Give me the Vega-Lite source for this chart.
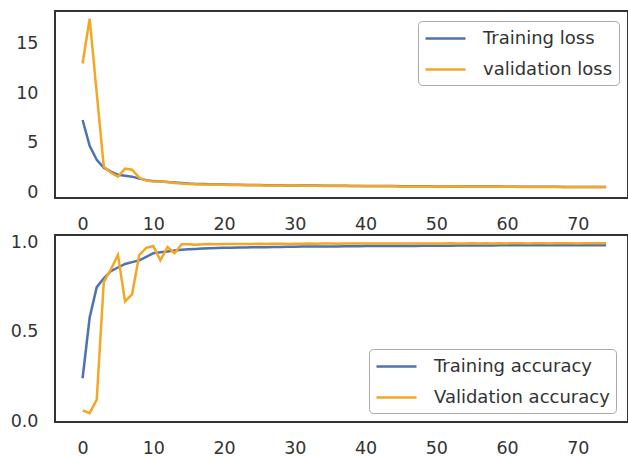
{
  "$schema": "https://vega.github.io/schema/vega-lite/v6.json",
  "background": "white",
  "padding": {"left": 9, "top": 10, "right": 1, "bottom": 0},
  "spacing": 37,
  "bounds": "flush",
  "config": {
    "font": "DejaVu Sans",
    "view": {"stroke": "#333333", "strokeWidth": 2},
    "axis": {"grid": false, "ticks": false, "domain": false, "labelFont": "DejaVu Sans", "labelFontSize": 17.5, "labelColor": "#333333", "title": null},
    "legend": {"labelFont": "DejaVu Sans", "labelFontSize": 18, "labelColor": "#333333", "labelLimit": 400, "symbolType": "M-1,0H3", "symbolSize": 400, "symbolStrokeWidth": 2.5, "symbolFillColor": "transparent", "strokeColor": "#aaaaaa", "fillColor": "white", "cornerRadius": 4, "padding": 6, "labelOffset": 36, "rowPadding": 10}
  },
  "datasets": {
    "hist": [
      {"epoch":0,"Training loss":7.3,"validation loss":13.0,"Training accuracy":0.24,"Validation accuracy":0.06},
      {"epoch":1,"Training loss":4.7,"validation loss":17.5,"Training accuracy":0.58,"Validation accuracy":0.045},
      {"epoch":2,"Training loss":3.3,"validation loss":10.0,"Training accuracy":0.75,"Validation accuracy":0.12},
      {"epoch":3,"Training loss":2.5,"validation loss":2.6,"Training accuracy":0.8,"Validation accuracy":0.78},
      {"epoch":4,"Training loss":2.1,"validation loss":2.0,"Training accuracy":0.84,"Validation accuracy":0.85},
      {"epoch":5,"Training loss":1.8,"validation loss":1.6,"Training accuracy":0.86,"Validation accuracy":0.93},
      {"epoch":6,"Training loss":1.7,"validation loss":2.4,"Training accuracy":0.88,"Validation accuracy":0.67},
      {"epoch":7,"Training loss":1.6,"validation loss":2.3,"Training accuracy":0.89,"Validation accuracy":0.71},
      {"epoch":8,"Training loss":1.4,"validation loss":1.5,"Training accuracy":0.9,"Validation accuracy":0.93},
      {"epoch":9,"Training loss":1.25,"validation loss":1.2,"Training accuracy":0.92,"Validation accuracy":0.97},
      {"epoch":10,"Training loss":1.15,"validation loss":1.1,"Training accuracy":0.94,"Validation accuracy":0.98},
      {"epoch":11,"Training loss":1.1,"validation loss":1.1,"Training accuracy":0.945,"Validation accuracy":0.9},
      {"epoch":12,"Training loss":1.05,"validation loss":1.05,"Training accuracy":0.95,"Validation accuracy":0.975},
      {"epoch":13,"Training loss":1.0,"validation loss":0.95,"Training accuracy":0.955,"Validation accuracy":0.94},
      {"epoch":14,"Training loss":0.95,"validation loss":0.9,"Training accuracy":0.96,"Validation accuracy":0.99},
      {"epoch":15,"Training loss":0.9,"validation loss":0.86,"Training accuracy":0.962,"Validation accuracy":0.99},
      {"epoch":16,"Training loss":0.87,"validation loss":0.84,"Training accuracy":0.964,"Validation accuracy":0.988},
      {"epoch":17,"Training loss":0.85,"validation loss":0.82,"Training accuracy":0.966,"Validation accuracy":0.99},
      {"epoch":18,"Training loss":0.83,"validation loss":0.8,"Training accuracy":0.968,"Validation accuracy":0.991},
      {"epoch":19,"Training loss":0.81,"validation loss":0.79,"Training accuracy":0.969,"Validation accuracy":0.99},
      {"epoch":20,"Training loss":0.8,"validation loss":0.78,"Training accuracy":0.97,"Validation accuracy":0.991},
      {"epoch":21,"Training loss":0.79,"validation loss":0.77,"Training accuracy":0.971,"Validation accuracy":0.992},
      {"epoch":22,"Training loss":0.78,"validation loss":0.76,"Training accuracy":0.972,"Validation accuracy":0.991},
      {"epoch":23,"Training loss":0.77,"validation loss":0.75,"Training accuracy":0.972,"Validation accuracy":0.992},
      {"epoch":24,"Training loss":0.76,"validation loss":0.74,"Training accuracy":0.973,"Validation accuracy":0.992},
      {"epoch":25,"Training loss":0.75,"validation loss":0.73,"Training accuracy":0.974,"Validation accuracy":0.993},
      {"epoch":26,"Training loss":0.74,"validation loss":0.72,"Training accuracy":0.974,"Validation accuracy":0.992},
      {"epoch":27,"Training loss":0.74,"validation loss":0.72,"Training accuracy":0.975,"Validation accuracy":0.993},
      {"epoch":28,"Training loss":0.73,"validation loss":0.71,"Training accuracy":0.975,"Validation accuracy":0.993},
      {"epoch":29,"Training loss":0.72,"validation loss":0.7,"Training accuracy":0.976,"Validation accuracy":0.992},
      {"epoch":30,"Training loss":0.72,"validation loss":0.7,"Training accuracy":0.976,"Validation accuracy":0.993},
      {"epoch":31,"Training loss":0.71,"validation loss":0.69,"Training accuracy":0.977,"Validation accuracy":0.993},
      {"epoch":32,"Training loss":0.7,"validation loss":0.68,"Training accuracy":0.977,"Validation accuracy":0.994},
      {"epoch":33,"Training loss":0.7,"validation loss":0.68,"Training accuracy":0.977,"Validation accuracy":0.993},
      {"epoch":34,"Training loss":0.69,"validation loss":0.67,"Training accuracy":0.978,"Validation accuracy":0.994},
      {"epoch":35,"Training loss":0.69,"validation loss":0.67,"Training accuracy":0.978,"Validation accuracy":0.994},
      {"epoch":36,"Training loss":0.68,"validation loss":0.66,"Training accuracy":0.978,"Validation accuracy":0.993},
      {"epoch":37,"Training loss":0.68,"validation loss":0.66,"Training accuracy":0.979,"Validation accuracy":0.994},
      {"epoch":38,"Training loss":0.67,"validation loss":0.65,"Training accuracy":0.979,"Validation accuracy":0.994},
      {"epoch":39,"Training loss":0.67,"validation loss":0.65,"Training accuracy":0.979,"Validation accuracy":0.995},
      {"epoch":40,"Training loss":0.66,"validation loss":0.64,"Training accuracy":0.98,"Validation accuracy":0.994},
      {"epoch":41,"Training loss":0.66,"validation loss":0.64,"Training accuracy":0.98,"Validation accuracy":0.995},
      {"epoch":42,"Training loss":0.65,"validation loss":0.63,"Training accuracy":0.98,"Validation accuracy":0.994},
      {"epoch":43,"Training loss":0.65,"validation loss":0.63,"Training accuracy":0.98,"Validation accuracy":0.995},
      {"epoch":44,"Training loss":0.65,"validation loss":0.63,"Training accuracy":0.981,"Validation accuracy":0.995},
      {"epoch":45,"Training loss":0.64,"validation loss":0.62,"Training accuracy":0.981,"Validation accuracy":0.994},
      {"epoch":46,"Training loss":0.64,"validation loss":0.62,"Training accuracy":0.981,"Validation accuracy":0.995},
      {"epoch":47,"Training loss":0.63,"validation loss":0.61,"Training accuracy":0.981,"Validation accuracy":0.995},
      {"epoch":48,"Training loss":0.63,"validation loss":0.61,"Training accuracy":0.982,"Validation accuracy":0.995},
      {"epoch":49,"Training loss":0.63,"validation loss":0.61,"Training accuracy":0.982,"Validation accuracy":0.994},
      {"epoch":50,"Training loss":0.62,"validation loss":0.6,"Training accuracy":0.982,"Validation accuracy":0.995},
      {"epoch":51,"Training loss":0.62,"validation loss":0.6,"Training accuracy":0.982,"Validation accuracy":0.995},
      {"epoch":52,"Training loss":0.62,"validation loss":0.6,"Training accuracy":0.982,"Validation accuracy":0.996},
      {"epoch":53,"Training loss":0.61,"validation loss":0.6,"Training accuracy":0.983,"Validation accuracy":0.995},
      {"epoch":54,"Training loss":0.61,"validation loss":0.59,"Training accuracy":0.983,"Validation accuracy":0.995},
      {"epoch":55,"Training loss":0.61,"validation loss":0.59,"Training accuracy":0.983,"Validation accuracy":0.996},
      {"epoch":56,"Training loss":0.6,"validation loss":0.59,"Training accuracy":0.983,"Validation accuracy":0.995},
      {"epoch":57,"Training loss":0.6,"validation loss":0.59,"Training accuracy":0.983,"Validation accuracy":0.996},
      {"epoch":58,"Training loss":0.6,"validation loss":0.58,"Training accuracy":0.983,"Validation accuracy":0.995},
      {"epoch":59,"Training loss":0.6,"validation loss":0.58,"Training accuracy":0.984,"Validation accuracy":0.996},
      {"epoch":60,"Training loss":0.59,"validation loss":0.58,"Training accuracy":0.984,"Validation accuracy":0.995},
      {"epoch":61,"Training loss":0.59,"validation loss":0.58,"Training accuracy":0.984,"Validation accuracy":0.996},
      {"epoch":62,"Training loss":0.59,"validation loss":0.57,"Training accuracy":0.984,"Validation accuracy":0.996},
      {"epoch":63,"Training loss":0.59,"validation loss":0.57,"Training accuracy":0.984,"Validation accuracy":0.995},
      {"epoch":64,"Training loss":0.58,"validation loss":0.57,"Training accuracy":0.984,"Validation accuracy":0.996},
      {"epoch":65,"Training loss":0.58,"validation loss":0.57,"Training accuracy":0.984,"Validation accuracy":0.996},
      {"epoch":66,"Training loss":0.58,"validation loss":0.57,"Training accuracy":0.985,"Validation accuracy":0.995},
      {"epoch":67,"Training loss":0.58,"validation loss":0.56,"Training accuracy":0.985,"Validation accuracy":0.996},
      {"epoch":68,"Training loss":0.57,"validation loss":0.56,"Training accuracy":0.985,"Validation accuracy":0.996},
      {"epoch":69,"Training loss":0.57,"validation loss":0.56,"Training accuracy":0.985,"Validation accuracy":0.996},
      {"epoch":70,"Training loss":0.57,"validation loss":0.56,"Training accuracy":0.985,"Validation accuracy":0.995},
      {"epoch":71,"Training loss":0.57,"validation loss":0.56,"Training accuracy":0.985,"Validation accuracy":0.996},
      {"epoch":72,"Training loss":0.57,"validation loss":0.55,"Training accuracy":0.985,"Validation accuracy":0.996},
      {"epoch":73,"Training loss":0.56,"validation loss":0.55,"Training accuracy":0.985,"Validation accuracy":0.996},
      {"epoch":74,"Training loss":0.56,"validation loss":0.55,"Training accuracy":0.985,"Validation accuracy":0.996}
    ]
  },
  "vconcat": [
    {
      "width": 573,
      "height": 187,
      "data": {"name": "hist"},
      "transform": [{"fold": ["Training loss", "validation loss"], "as": ["series", "value"]}],
      "mark": {"type": "line", "strokeWidth": 2.5},
      "encoding": {
        "x": {"field": "epoch", "type": "quantitative", "scale": {"domain": [-3.9, 77.1], "nice": false, "zero": false}, "axis": {"values": [0, 10, 20, 30, 40, 50, 60, 70], "labelPadding": 17}},
        "y": {"field": "value", "type": "quantitative", "scale": {"domain": [-0.55, 18.28], "nice": false, "zero": false}, "axis": {"values": [0, 5, 10, 15], "labelPadding": 17}},
        "color": {"field": "series", "type": "nominal", "scale": {"domain": ["Training loss", "validation loss"], "range": ["#4c72b0", "#f5a623"]}, "legend": {"title": null, "orient": "none", "legendX": 363, "legendY": 10}}
      }
    },
    {
      "width": 573,
      "height": 187,
      "data": {"name": "hist"},
      "transform": [{"fold": ["Training accuracy", "Validation accuracy"], "as": ["series", "value"]}],
      "mark": {"type": "line", "strokeWidth": 2.5},
      "encoding": {
        "x": {"field": "epoch", "type": "quantitative", "scale": {"domain": [-3.9, 77.1], "nice": false, "zero": false}, "axis": {"values": [0, 10, 20, 30, 40, 50, 60, 70], "labelPadding": 17}},
        "y": {"field": "value", "type": "quantitative", "scale": {"domain": [-0.005, 1.042], "nice": false, "zero": false}, "axis": {"values": [0, 0.5, 1], "format": ".1f", "labelPadding": 17}},
        "color": {"field": "series", "type": "nominal", "scale": {"domain": ["Training accuracy", "Validation accuracy"], "range": ["#4c72b0", "#f5a623"]}, "legend": {"title": null, "orient": "none", "legendX": 314, "legendY": 114}}
      }
    }
  ],
  "resolve": {"scale": {"color": "independent"}, "legend": {"color": "independent"}}
}
